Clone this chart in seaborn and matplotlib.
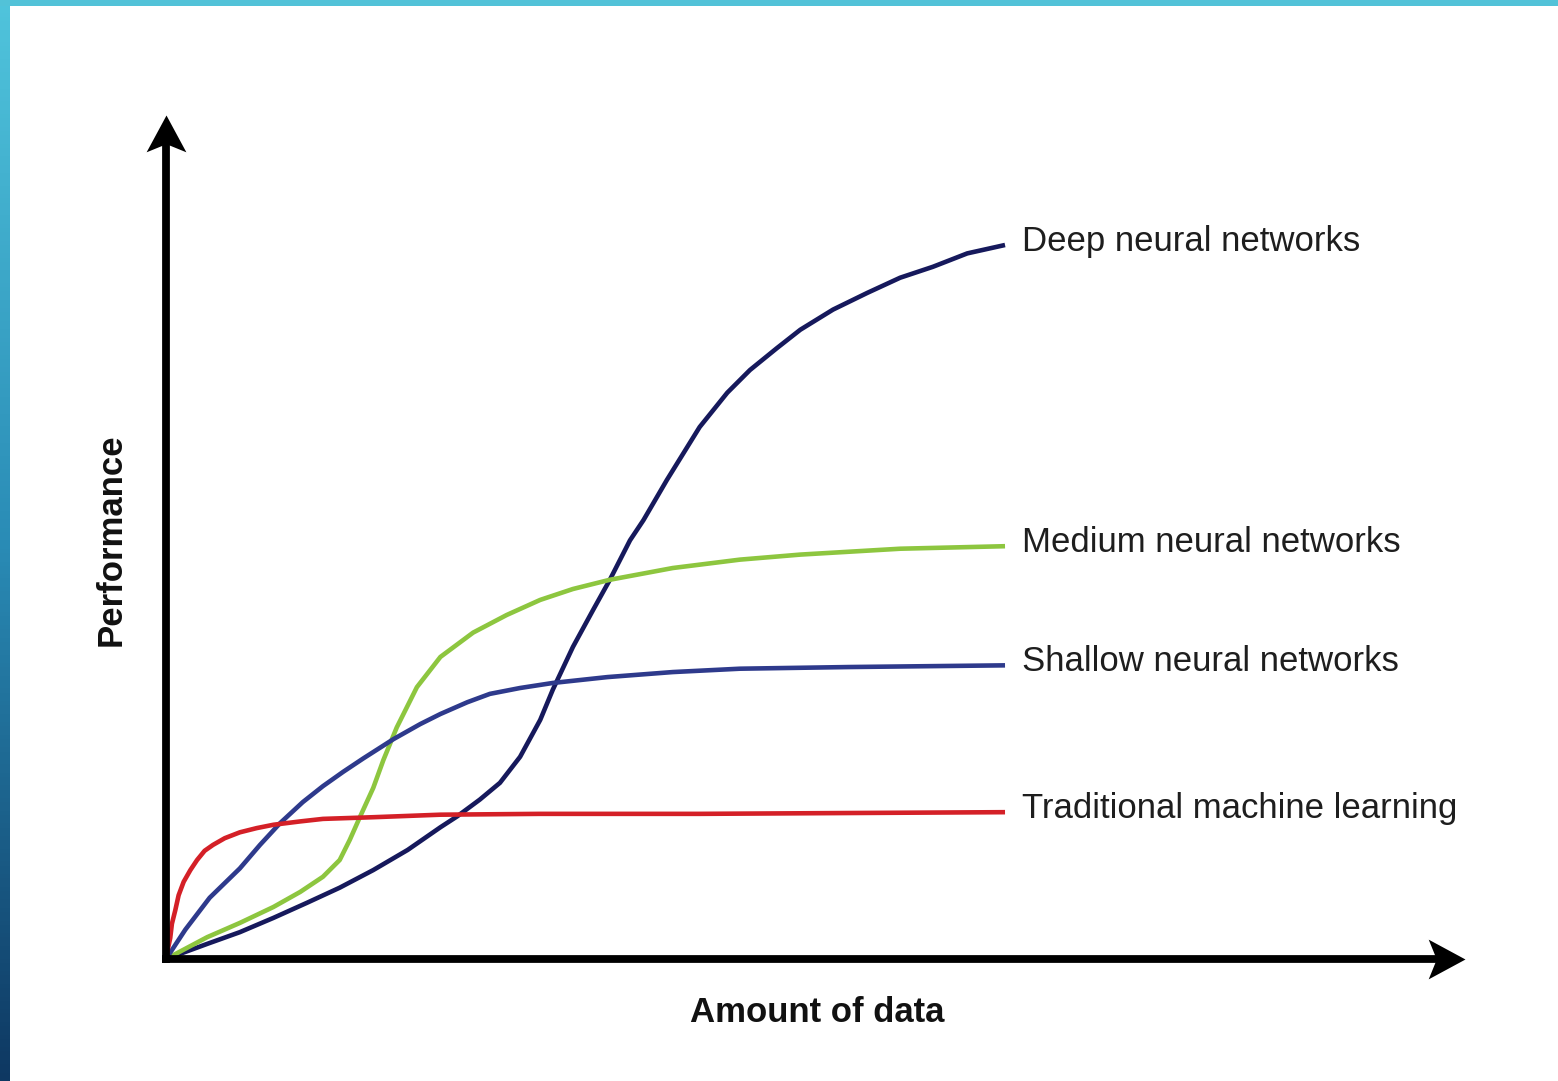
import numpy as np
import pandas as pd
import matplotlib.pyplot as plt
import seaborn as sns
from matplotlib.colors import LinearSegmentedColormap
from matplotlib.path import Path

# amount of data (0-100 at the end of the curves) vs performance
deep_x = [0, 4.9, 8.8, 12.8, 16.8, 20.7, 24.7, 28.8, 32.7, 34.7, 37.4, 39.8, 42.2, 44.6, 46.1, 48.5,
          50.9, 52.9, 55.3, 56.9, 59.7, 63.6, 66.9, 69.6, 72.8, 75.6, 79.5, 83.6, 87.5, 91.4, 95.5, 100]
deep_y = [0, 1.8, 3.2, 4.9, 6.7, 8.5, 10.6, 13.0, 15.7, 17.0, 19.0, 21.0, 24.1, 28.5, 32.1, 37.2,
          41.6, 45.2, 49.9, 52.3, 57.1, 63.4, 67.5, 70.2, 72.8, 75.0, 77.4, 79.4, 81.2, 82.5, 84.1, 85.1]

medium_x = [0, 4.9, 8.8, 12.8, 16.0, 18.7, 20.7, 21.9, 23.1, 24.7, 25.9, 27.5, 29.9, 32.7, 36.6,
            40.6, 44.6, 48.5, 52.9, 60.4, 68.4, 75.6, 87.5, 100]
medium_y = [0, 2.6, 4.3, 6.2, 8.0, 9.8, 11.8, 14.2, 16.9, 20.4, 23.7, 27.6, 32.4, 36.0, 38.9,
            41.0, 42.8, 44.1, 45.2, 46.6, 47.6, 48.2, 48.9, 49.2]

shallow_x = [0, 2.3, 5.2, 8.8, 11.2, 13.6, 16.3, 18.7, 21.1, 23.5, 27.1, 30.3, 32.7, 35.9, 38.6,
             42.2, 46.1, 52.6, 60.4, 68.4, 81.5, 100]
shallow_y = [0, 3.5, 7.3, 10.8, 13.6, 16.2, 18.7, 20.6, 22.3, 23.9, 26.2, 28.0, 29.2, 30.6, 31.6,
             32.3, 32.9, 33.6, 34.2, 34.6, 34.8, 35.0]

trad_x = [0, 0.2, 0.5, 0.7, 1.1, 1.5, 2.1, 2.9, 3.7, 4.6, 5.6, 7.0, 8.8, 10.8, 12.8, 16.0, 18.7,
          24.7, 32.7, 44.6, 63.6, 81.5, 100]
trad_y = [0, 1.1, 2.5, 4.2, 5.8, 7.6, 9.2, 10.6, 11.8, 12.9, 13.6, 14.4, 15.1, 15.6, 16.0, 16.4, 16.7,
          16.9, 17.2, 17.3, 17.3, 17.4, 17.5]

labels = ["Deep neural networks", "Medium neural networks",
          "Shallow neural networks", "Traditional machine learning"]
colors = ["#16195c", "#8dc63f", "#2e3a8c", "#d42027"]

sns.set_style("white")
plt.rcParams["font.family"] = ["Liberation Sans", "DejaVu Sans"]

fig = plt.figure(figsize=(15.58, 10.81), dpi=100)
ax = fig.add_axes([0, 0, 1, 1])
ax.set_xlim(-19.79, 165.91)
ax.set_ylim(-14.54, 114.30)
ax.axis("off")

series = [(deep_x, deep_y), (medium_x, medium_y), (shallow_x, shallow_y), (trad_x, trad_y)]
for (xs, ys), lab, col in zip(series, labels, colors):
    df = pd.DataFrame({"x": xs, "y": ys})
    sns.lineplot(data=df, x="x", y="y", ax=ax, color=col, lw=3.3, sort=False,
                 solid_joinstyle="round", solid_capstyle="butt")
    ax.text(xs[-1] + 2.0, ys[-1] + 0.4, lab, fontsize=25, color="#1e1e1e",
            va="center", ha="left")

# axes with notched arrow heads
head_right = Path([(0, 0), (-1, 0.54), (-0.78, 0), (-1, -0.54), (0, 0)],
                  [Path.MOVETO, Path.LINETO, Path.LINETO, Path.LINETO, Path.CLOSEPOLY])
head_up = Path([(0, 0), (0.54, -1), (0, -0.78), (-0.54, -1), (0, 0)],
               [Path.MOVETO, Path.LINETO, Path.LINETO, Path.LINETO, Path.CLOSEPOLY])
ax.plot([-0.5, 152.0], [0, 0], color="black", lw=5.6, solid_capstyle="butt")
ax.plot([0, 0], [-0.5, 98.0], color="black", lw=5.6, solid_capstyle="butt")
ax.plot([154.8], [0], marker=head_right, ms=53, color="black", mew=0)
ax.plot([0], [100.6], marker=head_up, ms=53, color="black", mew=0)

ax.text(77.6, -6.4, "Amount of data", fontsize=25, fontweight="bold",
        ha="center", va="center", color="#111111")
ax.text(-6.5, 50.0, "Performance", fontsize=25, fontweight="bold",
        ha="center", va="center", rotation=90, color="#111111")

# slide frame: gradient strip on the left, cyan strip on top
cmap = LinearSegmentedColormap.from_list("frame", ["#50c4dc", "#2a8cb6", "#0e3862"])
lax = fig.add_axes([0, 0, 10 / 1558, 1])
lax.imshow(np.linspace(0, 1, 256).reshape(-1, 1), aspect="auto", cmap=cmap)
lax.axis("off")
tax = fig.add_axes([0, 1 - 6 / 1081, 1, 6 / 1081])
tax.set_facecolor("#52c2d8")
tax.set_xticks([])
tax.set_yticks([])
for s in tax.spines.values():
    s.set_visible(False)

fig.savefig("out.png", dpi=100, facecolor="white")
